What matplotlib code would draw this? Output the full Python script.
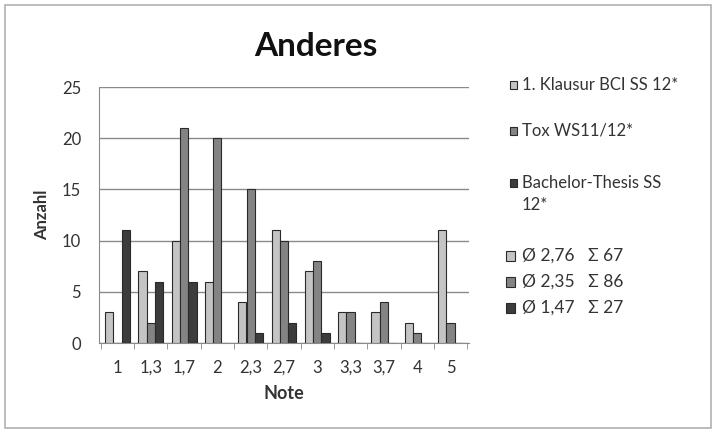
import matplotlib
matplotlib.use("Agg")
import matplotlib.pyplot as plt
from matplotlib.patches import Rectangle
import numpy as np

plt.rcParams['font.family'] = ['Lato', 'DejaVu Sans']

notes = ["1", "1,3", "1,7", "2", "2,3", "2,7", "3", "3,3", "3,7", "4", "5"]
bci = [3, 7, 10, 6, 4, 11, 7, 3, 3, 2, 11]
tox = [0, 2, 21, 20, 15, 10, 8, 3, 4, 1, 2]
thesis = [11, 6, 6, 0, 1, 2, 1, 0, 0, 0, 0]

series_names = ["1. Klausur BCI SS 12*", "Tox WS11/12*", "Bachelor-Thesis SS\n12*"]
stats_labels = ["Ø 2,76   Σ 67", "Ø 2,35   Σ 86", "Ø 1,47   Σ 27"]
colors = ["#c4c4c4", "#848484", "#3c3c3c"]
edge = "#2a2a2a"
text_color = "#333333"

W, H = 718, 433
fig = plt.figure(figsize=(W / 100, H / 100), dpi=100)

# outer frame of the chart
fig.patches.append(Rectangle((5 / W, 5 / H), 706 / W, 423 / H, transform=fig.transFigure,
                             fill=False, edgecolor="#b0b0b0", linewidth=1.2))

ax = fig.add_axes([99 / W, (H - 343) / H, 370 / W, 256 / H])

x = np.arange(len(notes))
w = 0.25
for off, vals, c in zip([-w, 0, w], [bci, tox, thesis], colors):
    ax.bar(x + off, vals, width=w, color=c, edgecolor=edge, linewidth=0.8, zorder=3)

ax.set_xlim(-0.55, len(notes) - 0.45)
ax.set_ylim(0, 25)
ax.set_yticks(range(0, 26, 5))
ax.yaxis.grid(True, color="#8a8a8a", linewidth=1.0, zorder=0)
ax.set_xticks(x)
ax.set_xticklabels(notes)
ax.set_xticks(np.arange(-0.5, len(notes), 1.0), minor=True)
ax.tick_params(axis="x", which="major", length=0, pad=12, labelsize=12, colors=text_color)
ax.tick_params(axis="x", which="minor", length=4, color="#8a8a8a", direction="out")
ax.tick_params(axis="y", length=0, pad=13, labelsize=12, colors=text_color)

for s in ["top", "right"]:
    ax.spines[s].set_visible(False)
ax.spines["left"].set_color("#8a8a8a")
ax.spines["bottom"].set_color("#8a8a8a")

ax.set_xlabel("Note", fontsize=13, fontweight="bold", color=text_color, labelpad=7)
ax.set_ylabel("Anzahl", fontsize=12, fontweight="bold", color=text_color, labelpad=8)

fig.text(316 / W, 1 - 47 / H, "Anderes", ha="center", va="center",
         fontsize=24, fontweight="bold", color="#111111")

# series legend (long names wrap onto a second line)
name_y = [85, 131, 183]
for name, yy, c in zip(series_names, name_y, colors):
    fig.patches.append(Rectangle((510 / W, 1 - (yy + 4) / H), 7 / W, 8 / H,
                                 transform=fig.transFigure, facecolor=c, edgecolor=edge, linewidth=0.8))
    for k, line in enumerate(name.split("\n")):
        fig.text(522 / W, 1 - (yy + 22 * k) / H, line, ha="left", va="center",
                 fontsize=12, color=text_color)

# mean / total legend
stat_y = [256, 282, 308]
for lab, yy, c in zip(stats_labels, stat_y, colors):
    fig.patches.append(Rectangle((506 / W, 1 - (yy + 5) / H), 9 / W, 10 / H,
                                 transform=fig.transFigure, facecolor=c, edgecolor=edge, linewidth=0.8))
    fig.text(522 / W, 1 - yy / H, lab, ha="left", va="center", fontsize=12.5, color=text_color)

fig.savefig("out.png", dpi=100)
